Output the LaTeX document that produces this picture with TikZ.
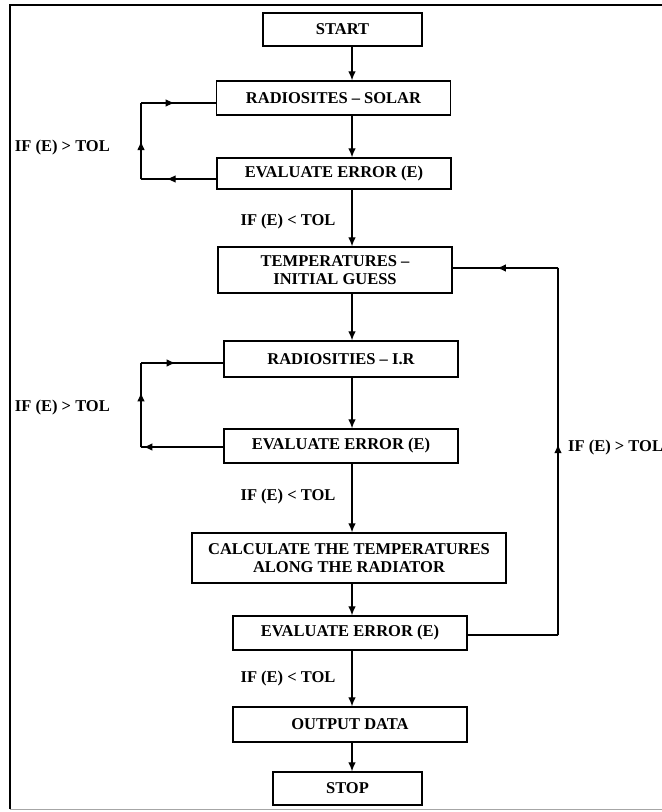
\documentclass[tikz,border=0pt]{standalone}
\usepackage{fontspec}
\setmainfont{Liberation Serif}
\usetikzlibrary{arrows.meta,calc}
\tikzset{
	box/.style={draw, line width=1.4bp, minimum width=234bp, inner sep=0pt, align=center, font=\fontsize{16.5bp}{18bp}\selectfont\bfseries},
	cond/.style={inner sep=0pt, font=\fontsize{16.5bp}{18bp}\selectfont\bfseries},
	flow/.style={line width=1.1bp, -{Latex[length=9bp,width=7.5bp]}},
	link/.style={line width=1.1bp}
}
\newcommand{\midflow}[3]{\draw[link](#1) -- (#2); \draw[flow](#1) -- ($(#1)!#3!(#2)$);}
\begin{document}
\begin{tikzpicture}[x=1bp, y=-1bp]
		\useasboundingbox(0, 0) rectangle (662, 812);
		\draw[line width=2.8bp](662, 5) -- (10, 5) -- (10, 809);
		\draw[black!35, line width=1bp](10, 809) -- (662, 809);

		\node[box, minimum width=159bp, minimum height=33bp] (start) at(342.5, 29.5){START};
		\node[box, minimum height=34bp] (radsol) at(333.5, 98){RADIOSITES -- SOLAR};
		\node[box, minimum height=31bp] (evala) at(334, 173.5){EVALUATE ERROR (E)};
		\node[box, minimum height=46bp] (guess) at(335, 270){TEMPERATURES --\\INITIAL GUESS};
		\node[box, minimum height=36bp] (radir) at(341, 359){RADIOSITIES -- I.R};
		\node[box, minimum height=34bp] (evalb) at(341, 446){EVALUATE ERROR (E)};
		\node[box, minimum width=314bp, minimum height=50bp] (calc) at(349, 558){CALCULATE THE TEMPERATURES\\ALONG THE RADIATOR};
		\node[box, minimum height=34bp] (evalc) at(350, 633){EVALUATE ERROR (E)};
		\node[box, minimum height=35bp] (output) at(350, 724.5){OUTPUT DATA};
		\node[box, minimum width=149bp, minimum height=33bp] (stop) at(347.5, 788.5){STOP};

		\node[cond, anchor=east] (gta) at(110, 148){IF (E) > TOL};
		\node[cond, anchor=east] (gtb) at(110, 408){IF (E) > TOL};
		\node[cond, anchor=west] (gtc) at(568, 448){IF (E) > TOL};
		\node[cond] (lta) at(288, 222){IF (E) < TOL};
		\node[cond] (ltb) at(288, 497){IF (E) < TOL};
		\node[cond] (ltc) at(288, 679){IF (E) < TOL};

		\coordinate (spine) at(352, 0);
		\draw[flow](start.south -| spine) -- (radsol.north -| spine);
		\draw[flow](radsol.south -| spine) -- (evala.north -| spine);
		\draw[flow](evala.south -| spine) -- (guess.north -| spine);
		\draw[flow](guess.south -| spine) -- (radir.north -| spine);
		\draw[flow](radir.south -| spine) -- (evalb.north -| spine);
		\draw[flow](evalb.south -| spine) -- (calc.north -| spine);
		\draw[flow](calc.south -| spine) -- (evalc.north -| spine);
		\draw[flow](evalc.south -| spine) -- (output.north -| spine);
		\draw[flow](output.south -| spine) -- (stop.north -| spine);

		\coordinate (ca) at(141, 179);
		\coordinate (cb) at(141, 103);
		\coordinate (evalaout) at(evala.west |- ca);
		\coordinate (radsolin) at(radsol.west |- cb);
			\midflow{evalaout}{ca}{0.66}
			\midflow{ca}{cb}{0.5}
			\midflow{cb}{radsolin}{0.45}

		\coordinate (cc) at(141, 447);
		\coordinate (cd) at(141, 363);
		\coordinate (evalbout) at(evalb.west |- cc);
		\coordinate (radirin) at(radir.west |- cd);
			\midflow{evalbout}{cc}{0.97}
			\midflow{cc}{cd}{0.65}
			\midflow{cd}{radirin}{0.42}

		\coordinate (ce) at(558, 635);
		\coordinate (cf) at(558, 268);
		\coordinate (evalcout) at(evalc.east |- ce);
		\coordinate (guessin) at(guess.east |- cf);
			\draw[link](evalcout) -- (ce);
			\midflow{ce}{cf}{0.52}
			\midflow{cf}{guessin}{0.58}
	\end{tikzpicture}
\end{document}
